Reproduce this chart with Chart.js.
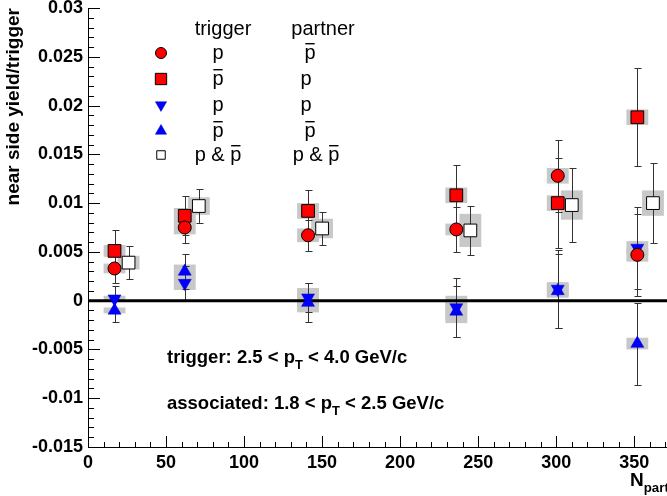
<!DOCTYPE html>
<html><head><meta charset="utf-8">
<script src="https://cdn.jsdelivr.net/npm/chart.js@4.4.0/dist/chart.umd.min.js"></script>
<style>html,body{margin:0;padding:0;background:#fff;} canvas{display:block;}</style>
</head><body>
<canvas id="c" width="667" height="496"></canvas>
<script>
const FONT = "'Liberation Sans', Arial, Helvetica, sans-serif";

// tick labels
const xTickValues = [0, 50, 100, 150, 200, 250, 300, 350];
const yTickValues = [-0.015, -0.01, -0.005, 0, 0.005, 0.01, 0.015, 0.02, 0.025, 0.03];
const xMin = 0, xMax = 371, yMin = -0.015, yMax = 0.03;

// N_part of each centrality bin, and shifted N_part of the combined points
const npart = [17, 62, 141, 236, 301, 352];
const npartCombined = [26, 71, 150, 245, 310, 362];

// trigger p, partner pbar (red circles)
const pPbar     = [0.0033, 0.0075, 0.0067, 0.0073, 0.0128, 0.0047];
const pPbarErr  = [0.0015, 0.0016, 0.0016, 0.0023, 0.0037, 0.0042];
const pPbarSys  = [0.0005, 0.0007, 0.0007, 0.0006, 0.0008, 0.0007];
// trigger pbar, partner p (red squares)
const pbarP     = [0.0051, 0.0087, 0.0092, 0.0108, 0.0100, 0.0188];
const pbarPErr  = [0.0021, 0.0020, 0.0021, 0.0031, 0.0046, 0.0050];
const pbarPSys  = [0.0006, 0.0008, 0.0008, 0.0008, 0.0008, 0.0008];
// trigger p, partner p (blue down triangles)
const pP        = [0.0002, 0.0018, 0.0003, -0.0007, 0.0012, 0.0054];
const pPErr     = [0.0013, 0.0018, 0.0015, 0.0030, 0.0040, 0.0042];
const pPSys     = [0.0003, 0.0007, 0.0010, 0.0012, 0.0007, 0.0007];
// trigger pbar, partner pbar (blue up triangles)
const pbarPbar    = [-0.0010, 0.0030, -0.0002, -0.0011, 0.0010, -0.0044];
const pbarPbarErr = [0.0012, 0.0018, 0.0020, 0.0026, 0.0038, 0.0042];
const pbarPbarSys = [0.0003, 0.0007, 0.0010, 0.0012, 0.0007, 0.0006];
// trigger p & pbar, partner p & pbar (open squares)
const combined    = [0.0039, 0.0097, 0.0074, 0.0072, 0.0098, 0.0100];
const combinedErr = [0.0017, 0.0017, 0.0017, 0.0025, 0.0038, 0.0041];
const combinedSys = [0.0007, 0.0009, 0.0010, 0.0017, 0.0015, 0.0013];

const SYS_HALF_W = 7; // half width of systematic boxes (N_part units)

function pts(xs, ys) { return xs.map((x, i) => ({ x: x, y: ys[i] })); }

const redCircle = { pointStyle: 'circle', pointRadius: 6.5, backgroundColor: '#ff0000', borderColor: '#000', borderWidth: 1 };
const redSquare = { pointStyle: 'rect', pointRadius: 9, backgroundColor: '#ff0000', borderColor: '#000', borderWidth: 1 };
const blueDown = { pointStyle: 'triangle', pointRadius: 7.5, pointRotation: 180, backgroundColor: '#0000ff', borderColor: '#0000cc', borderWidth: 0.5 };
const blueUp = { pointStyle: 'triangle', pointRadius: 7.5, pointRotation: 0, backgroundColor: '#0000ff', borderColor: '#0000cc', borderWidth: 0.5 };
const openSquare = { pointStyle: 'rect', pointRadius: 9, backgroundColor: '#ffffff', borderColor: '#000', borderWidth: 1 };

const datasets = [
  { label: 'zero', type: 'line', data: [{ x: xMin, y: 0 }, { x: xMax, y: 0 }], borderColor: '#000', borderWidth: 3, pointRadius: 0, order: 10 },
  Object.assign({ label: 'p-pbar', data: pts(npart, pPbar), err: pPbarErr, sys: pPbarSys, order: 1 }, redCircle),
  Object.assign({ label: 'pbar-p', data: pts(npart, pbarP), err: pbarPErr, sys: pbarPSys, order: 2 }, redSquare),
  Object.assign({ label: 'p-p', data: pts(npart, pP), err: pPErr, sys: pPSys, order: 3 }, blueDown),
  Object.assign({ label: 'pbar-pbar', data: pts(npart, pbarPbar), err: pbarPbarErr, sys: pbarPbarSys, order: 4 }, blueUp),
  Object.assign({ label: 'combined', data: pts(npartCombined, combined), err: combinedErr, sys: combinedSys, order: 0 }, openSquare)
];

const errPlugin = {
  id: 'errbars',
  beforeDatasetsDraw(chart) {
    const { ctx, scales: { x, y }, chartArea: ca } = chart;
    ctx.save();
    ctx.beginPath(); ctx.rect(ca.left, ca.top, ca.right - ca.left, ca.bottom - ca.top); ctx.clip();
    // systematic boxes
    ctx.fillStyle = '#c8c8c8';
    chart.data.datasets.forEach(ds => {
      if (!ds.sys) return;
      ds.data.forEach((p, i) => {
        const x0 = x.getPixelForValue(p.x - SYS_HALF_W), x1 = x.getPixelForValue(p.x + SYS_HALF_W);
        const y0 = y.getPixelForValue(p.y + ds.sys[i]), y1 = y.getPixelForValue(p.y - ds.sys[i]);
        ctx.fillRect(x0, y0, x1 - x0, y1 - y0);
      });
    });
    // statistical error bars
    ctx.strokeStyle = '#333';
    ctx.lineWidth = 1;
    chart.data.datasets.forEach(ds => {
      if (!ds.err) return;
      ds.data.forEach((p, i) => {
        const px = Math.round(x.getPixelForValue(p.x)) + 0.5;
        const yt = Math.round(y.getPixelForValue(p.y + ds.err[i])) + 0.5;
        const yb = Math.round(y.getPixelForValue(p.y - ds.err[i])) + 0.5;
        ctx.beginPath();
        ctx.moveTo(px, yt); ctx.lineTo(px, yb);
        ctx.moveTo(px - 3, yt); ctx.lineTo(px + 4, yt);
        ctx.moveTo(px - 3, yb); ctx.lineTo(px + 4, yb);
        ctx.stroke();
      });
    });
    ctx.restore();
  }
};

// draw text made of parts: {t, bar, sub}
function drawRich(ctx, parts, x, y, size, weight, align) {
  const f = (s) => weight + ' ' + s + 'px ' + FONT;
  let total = 0;
  parts.forEach(p => { ctx.font = f(p.sub ? size * 0.7 : size); total += ctx.measureText(p.t).width; });
  let cx = align === 'center' ? x - total / 2 : x;
  ctx.textAlign = 'left';
  ctx.textBaseline = 'alphabetic';
  parts.forEach(p => {
    const s = p.sub ? size * 0.7 : size;
    ctx.font = f(s);
    const w = ctx.measureText(p.t).width;
    ctx.fillText(p.t, cx, p.sub ? y + size * 0.3 : y);
    if (p.bar) {
      ctx.fillRect(cx + w * 0.08, y - size * 0.8, w * 0.84, Math.max(1, size * 0.07));
    }
    cx += w;
  });
}

const decoPlugin = {
  id: 'deco',
  afterDraw(chart) {
    const { ctx, scales: { x, y }, chartArea: ca } = chart;
    ctx.save();
    // inward tick marks
    ctx.strokeStyle = '#000'; ctx.lineWidth = 1;
    ctx.beginPath();
    for (let k = Math.round(yMin * 1000); k <= Math.round(yMax * 1000); k++) {
      const py = Math.round(y.getPixelForValue(k / 1000)) + 0.5;
      const len = (k % 5 === 0) ? 12 : 6;
      ctx.moveTo(ca.left, py); ctx.lineTo(ca.left + len, py);
    }
    for (let k = 0; k * 10 <= xMax; k++) {
      const px = Math.round(x.getPixelForValue(k * 10)) + 0.5;
      const len = (k % 5 === 0) ? 11 : 5;
      ctx.moveTo(px, ca.bottom); ctx.lineTo(px, ca.bottom - len);
    }
    ctx.stroke();

    ctx.fillStyle = '#000';
    // x axis title N_part
    drawRich(ctx, [{ t: 'N' }, { t: 'part', sub: true }], 630, 486, 19, 'bold', 'left');

    // legend
    const H = Chart.helpers;
    drawRich(ctx, [{ t: 'trigger' }], 223, 35, 20, 'normal', 'center');
    drawRich(ctx, [{ t: 'partner' }], 323, 35, 20, 'normal', 'center');
    const rows = [
      { st: redCircle, y: 53, c1: [{ t: 'p' }], c2: [{ t: 'p', bar: true }], x2: 310 },
      { st: redSquare, y: 79, c1: [{ t: 'p', bar: true }], c2: [{ t: 'p' }], x2: 306 },
      { st: blueDown, y: 105, c1: [{ t: 'p' }], c2: [{ t: 'p' }], x2: 306 },
      { st: blueUp, y: 131, c1: [{ t: 'p', bar: true }], c2: [{ t: 'p', bar: true }], x2: 310 },
      { st: openSquare, y: 155, c1: [{ t: 'p & ' }, { t: 'p', bar: true }], c2: [{ t: 'p & ' }, { t: 'p', bar: true }], x2: 316 }
    ];
    const legRadius = { circle: 5.5, rect: 8, triangle: 6.5 };
    rows.forEach((r, i) => {
      ctx.fillStyle = r.st.backgroundColor;
      ctx.strokeStyle = r.st.borderColor;
      ctx.lineWidth = r.st.borderWidth;
      let rad = legRadius[r.st.pointStyle];
      if (i === 4) rad = 6;
      H.drawPoint(ctx, { pointStyle: r.st.pointStyle, radius: rad, rotation: r.st.pointRotation || 0, borderWidth: r.st.borderWidth }, 161, r.y);
      ctx.fillStyle = '#000';
      drawRich(ctx, r.c1, 218, r.y + 6, 20, 'normal', 'center');
      drawRich(ctx, r.c2, r.x2, r.y + 6, 20, 'normal', 'center');
    });

    // kinematic annotations
    drawRich(ctx, [{ t: 'trigger: 2.5 < p' }, { t: 'T', sub: true }, { t: ' < 4.0 GeV/c' }], 167, 363, 18.5, 'bold', 'left');
    drawRich(ctx, [{ t: 'associated: 1.8 < p' }, { t: 'T', sub: true }, { t: ' < 2.5 GeV/c' }], 167, 409, 18.5, 'bold', 'left');
    ctx.restore();
  }
};

function fmt(v) { return String(Number(v.toFixed(4))); }

new Chart(document.getElementById('c').getContext('2d'), {
  type: 'scatter',
  data: { datasets: datasets },
  options: {
    responsive: false,
    animation: false,
    events: [],
    clip: false,
    layout: { autoPadding: false, padding: { top: 8, right: 0, left: 0, bottom: 0 } },
    plugins: { legend: { display: false }, tooltip: { enabled: false } },
    scales: {
      x: {
        type: 'linear', min: xMin, max: xMax,
        grid: { display: false, drawTicks: false },
        border: { display: true, color: '#000', width: 1 },
        ticks: { padding: 5, color: '#000', font: { family: FONT, size: 18, weight: 'bold' }, callback: fmt, maxRotation: 0, autoSkip: false, includeBounds: false },
        afterBuildTicks(s) { s.ticks = xTickValues.map(v => ({ value: v })); },
        afterFit(s) { s.height = 49; s.paddingLeft = 0; s.paddingRight = 0; }
      },
      y: {
        type: 'linear', min: yMin, max: yMax,
        grid: { display: false, drawTicks: false },
        border: { display: true, color: '#000', width: 1 },
        ticks: { padding: 5, color: '#000', font: { family: FONT, size: 18, weight: 'bold' }, callback: fmt, autoSkip: false, includeBounds: false },
        afterBuildTicks(s) { s.ticks = yTickValues.map(v => ({ value: v })); },
        afterFit(s) { s.width = 88; s.paddingTop = 0; s.paddingBottom = 0; },
        title: { display: true, text: 'near side yield/trigger', align: 'end', color: '#000', font: { family: FONT, size: 19, weight: 'bold' }, padding: { top: 2, bottom: 0 } }
      }
    }
  },
  plugins: [errPlugin, decoPlugin]
});
</script>
</body></html>
